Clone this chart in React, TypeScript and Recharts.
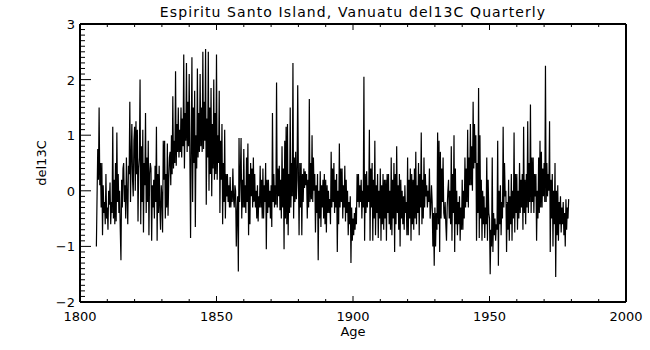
import { LineChart, Line, XAxis, YAxis } from 'recharts';

// quarterly samples, first one at 1806.0
const startAge = 1806;
const step = 0.25;

// del13C values, four per year
const d1806 = [
  -1.0, -0.1, 0.75, 0.2, 1.5, 0.1, 0.5, -0.3, 0.5, -0.8, 0.1, -0.4,
  -0.2, -0.6, 0.3, -0.5, -0.3, -0.7, 0.0, -0.25, 0.15, -0.6, -0.2, -0.4,
  1.15, -0.5, 0.2, -0.6, 0.5, -0.55, 1.05, -0.2, 0.3, -0.4, 0.0, -0.7,
  -1.25, 0.2, -0.3, 0.4, 0.5, -0.2, 0.1, -0.5, 0.6, -0.1, -0.6, 0.45,
  0.3, 1.6, -0.2, 0.6, 1.2, 0.2, -0.1, 0.9, 1.15, 0.0, 1.25, 0.3,
  1.1, -0.55, 0.4, 0.6, 2.0, -0.6, 0.8, -0.2, 1.1, -0.75, 0.5, 0.1,
  1.4, -0.4, 0.6, -0.2, 0.9, -0.8, 0.3, 0.5, 0.4, -0.9, 0.1, -0.3,
  0.2, -0.5, 0.45, -0.2, 1.15, -0.9, 0.3, -0.4, 0.45, -0.3, -0.7, 0.1,
];
const d1830 = [
  -0.1, -0.75, 0.9, 0.2, 0.9, -0.5, 0.3, -0.3, 0.85, -0.45, 0.2, 0.6,
  0.7, 0.1, 1.0, 0.3, 1.7, 0.4, 0.9, 0.5, 2.15, 0.45, 1.2, 0.7,
  1.5, 0.6, 1.1, 0.7, 1.5, 0.6, 1.3, 0.8, 2.45, 0.4, 1.4, 0.9,
  2.3, 0.7, 1.6, 0.8, 2.1, 0.6, -0.85, 0.9, 2.4, -0.2, 1.5, 0.5,
  1.8, -0.65, 1.0, 0.4, 2.2, 0.6, 1.4, 0.7, 2.1, 0.8, 1.5, 0.7,
  2.5, 0.75, 1.6, 0.9, 2.55, -0.25, 1.3, 0.6, 2.5, 0.0, 1.5, 0.3,
  1.85, -0.1, 1.2, 0.4, 2.0, 0.2, 1.4, 0.3, 2.45, 0.2, 1.0, 0.5,
  1.8, -0.4, 0.9, 0.2, 1.2, -0.6, 0.5, -0.2, 1.1, -0.5, 0.3, -0.1,
  0.3, -0.2, 0.1, -0.3, 0.25, -0.3, 0.0, -0.2, 0.4, -0.15, -0.3, 0.1,
  0.0, -1.0, -0.4, -0.1, -1.45, 0.95, -0.2, 0.3, 0.95, -0.5, 0.2, -0.3,
];
const d1860 = [
  0.75, -0.3, 0.1, -0.4, 0.6, -0.2, 0.85, -0.8, 0.3, -0.6, 0.5, -0.1,
  0.4, -0.3, 0.6, -0.2, 0.3, -0.3, 0.0, -0.5, 0.1, -0.55, -0.1, -0.3,
  0.45, -0.3, 0.2, -0.5, 0.4, -0.5, 0.1, -0.2, 0.5, -1.05, 0.2, -0.4,
  0.2, -0.3, 0.0, -0.5, 0.1, -0.65, 1.4, -0.2, 0.3, -0.3, 0.1, -0.25,
  1.95, -0.3, 0.4, -0.1, 0.45, -0.35, 0.2, -0.5, 0.8, -0.3, 0.4, -1.05,
  0.9, -0.5, 1.15, -0.6, 1.2, -0.8, 0.3, -0.4, 1.5, -0.3, 0.5, -0.1,
  2.3, -0.5, 0.6, -0.2, 0.7, -0.15, 0.2, 1.9, 0.3, -0.8, 0.5, -0.3,
  0.5, -0.8, 0.3, -0.2, 0.4, 0.05, 0.35, 0.1, 0.3, -0.5, 0.2, -0.3,
  1.65, -0.2, 0.5, -0.15, 1.0, -0.2, 0.6, 0.0, 0.3, -0.75, 0.1, -0.4,
  0.3, -1.25, 0.0, -0.5, 0.35, -0.65, 0.1, -0.3, 0.2, -0.5, 0.3, -0.6,
  0.2, -0.75, 0.1, -0.4, 0.0, -0.4, -0.15, -0.6, 0.7, -0.3, 0.4, -0.2,
  0.5, -0.4, 0.2, -0.3, 0.3, -1.1, 0.0, -0.6, 0.85, -0.3, 0.4, -0.2,
  0.4, -0.5, 0.1, -0.3, 0.45, -0.55, 0.2, -0.4, 0.0, -0.8, -0.2, -0.6,
  -0.1, -1.3, -0.3, -0.9,
];
const d1900 = [
  -0.5, -0.8, -0.4, -0.7, -0.3, -0.6, 0.3, -0.2, 0.3, -0.3, 0.1, -0.2,
  0.2, -0.5, 0.0, -0.3, 2.05, -0.9, 0.3, -0.4, 0.35, -0.3, 0.1, -0.2,
  1.1, -0.9, 0.4, -0.3, 0.5, -0.9, 0.2, -0.5, 0.9, -0.8, 0.1, -0.4,
  0.3, -0.85, 0.0, -0.5, 0.4, -0.9, 0.1, -0.6, 0.3, -0.7, 0.2, -0.5,
  0.2, -0.9, 0.3, -0.4, 0.3, -0.6, 0.0, -0.7, 0.6, -0.8, 0.2, -0.5,
  0.5, -1.1, 0.3, -0.6, 0.8, -0.4, 0.1, -0.7, 0.3, -1.0, 0.2, -0.5,
  0.0, -0.6, -0.1, -0.7, 0.1, -0.4, -0.2, -0.8, 0.6, -0.8, 0.2, -0.5,
  0.4, -0.9, 0.3, -0.6, 0.2, -0.7, 0.4, -0.5, 0.7, -0.6, 0.1, -0.4,
  0.5, -0.8, 0.3, -0.3, 1.05, -0.6, 0.2, -0.5, 0.6, -0.3, 0.3, -0.1,
  0.1, -0.3, 0.0, -0.2, 0.4, -0.5, -0.3, 0.1, -0.2, -1.0, -0.4, -1.35,
  -0.3, -1.0, -0.4, -0.7, 1.05, -0.6, 0.9, -1.1, 0.7, -0.5, 0.4, -0.2,
  0.6, -0.4, -0.5, -0.2, -0.6, -0.9, -0.3, 0.0, 0.2, -0.5, 0.0, -0.6,
  0.8, -0.9, 0.3, -0.4, 1.0, -1.1, 0.4, -0.6, 0.0, -0.8, -0.2, -0.6,
  -0.1, -0.9, -0.3, -0.7,
];
const d1940 = [
  0.2, -0.7, 0.0, -0.5, 0.6, -0.3, 0.4, -0.2, 1.1, -0.3, 0.6, 0.1,
  1.2, 0.1, 0.8, 0.0, 1.6, 0.4, 1.2, 0.5, 1.0, -0.9, 0.5, -0.4,
  1.85, -0.85, 1.0, -0.5, 0.2, -0.9, 0.0, -0.6, -0.1, -0.85, -0.3, -0.6,
  0.6, -0.9, 0.2, -0.4, -0.5, -1.5, -0.7, -1.0, 0.6, -1.1, -0.4, -0.8,
  -0.5, -0.9, -0.6, -0.7, 0.9, -1.35, 0.0, -0.6, 0.1, -0.8, -0.2, -0.5,
  1.15, -0.3, 0.5, -0.1, 0.0, -1.1, -0.2, -0.7, 0.2, -0.9, -0.1, -0.6,
  0.3, -0.9, 0.0, -0.5, 1.05, -0.75, 0.3, -0.4, 0.3, -0.7, 0.0, -0.5,
  0.5, -0.4, 0.2, -0.3, 0.3, -0.7, 1.15, -0.4, 0.2, -0.6, 0.3, -0.3,
  1.25, -0.4, 0.5, -0.2, 1.55, -0.4, 0.6, -0.2, 0.6, -0.4, 0.3, -0.1,
  0.3, -0.9, 0.0, -0.5, 0.6, -0.4, 0.9, -0.3, 0.7, -0.3, 0.4, -0.1,
  0.5, -0.2, 2.25, -0.2, 0.5, -0.1, 0.3, 0.0, 1.25, -1.1, 0.2, -0.5,
  0.3, -1.0, 0.0, -0.6, 0.5, -1.55, 0.0, -0.8, 0.1, -0.9, -0.2, -0.6,
  -0.1, -0.75, -0.3, -0.6, -0.2, -0.8, -0.4, -1.0, -0.15, -0.7, -0.3, -0.5,
  -0.15,
];

const del13C = [...d1806, ...d1830, ...d1860, ...d1900, ...d1940];

const xTicks = [
  1800, 1810, 1820, 1830, 1840, 1850, 1860, 1870, 1880, 1890, 1900,
  1910, 1920, 1930, 1940, 1950, 1960, 1970, 1980, 1990, 2000,
];
const xLabels = [1800, 1850, 1900, 1950, 2000];
// minor ticks every 0.1
const yTicks = Array.from({ length: 51 }, (_, i) => Math.round(-20 + i) / 10);

const data = del13C.map((v, i) => ({ age: startAge + i * step, value: v }));

const font = 'DejaVu Sans';

const fmtY = (v: number) => (v < 0 ? '\u2212' + Math.abs(v) : String(v));

const BottomTick = ({ x, y, payload }: any) => {
  const major = xLabels.includes(payload.value);
  return (
    <g>
      <line x1={x} y1={y} x2={x} y2={y - (major ? 6 : 3)} stroke="#000" />
      {major && (
        <text x={x} y={y + 19} textAnchor="middle" fontFamily={font} fontSize={13} fill="#000">
          {payload.value}
        </text>
      )}
    </g>
  );
};

const TopTick = ({ x, y, payload }: any) => {
  const major = xLabels.includes(payload.value);
  return <line x1={x} y1={y} x2={x} y2={y + (major ? 6 : 3)} stroke="#000" />;
};

const LeftTick = ({ x, y, payload }: any) => {
  const major = Number.isInteger(payload.value);
  return (
    <g>
      <line x1={x} y1={y} x2={x + (major ? 11 : 5)} y2={y} stroke="#000" />
      {major && (
        <text x={x - 5} y={y + 5} textAnchor="end" fontFamily={font} fontSize={13} fill="#000">
          {fmtY(payload.value)}
        </text>
      )}
    </g>
  );
};

const RightTick = ({ x, y, payload }: any) => {
  const major = Number.isInteger(payload.value);
  return <line x1={x} y1={y} x2={x - (major ? 11 : 5)} y2={y} stroke="#000" />;
};

const frame = { stroke: '#000', strokeWidth: 2 };

export default function App() {
  return (
    <div style={{ position: 'absolute', left: 0, top: 0, width: 650, height: 350, background: '#fff' }}>
      <LineChart width={650} height={350} data={data} margin={{ top: 23, right: 23, bottom: 47, left: 79 }}>
        <XAxis
          xAxisId="bottom"
          dataKey="age"
          type="number"
          domain={[1800, 2000]}
          ticks={xTicks}
          interval={0}
          height={1}
          tickSize={0}
          tickMargin={0}
          tickLine={false}
          tick={<BottomTick />}
          axisLine={frame}
        />
        <XAxis
          xAxisId="top"
          orientation="top"
          dataKey="age"
          type="number"
          domain={[1800, 2000]}
          ticks={xTicks}
          interval={0}
          height={1}
          tickSize={0}
          tickMargin={0}
          tickLine={false}
          tick={<TopTick />}
          axisLine={frame}
        />
        <YAxis
          yAxisId="left"
          type="number"
          domain={[-2, 3]}
          ticks={yTicks}
          interval={0}
          width={1}
          tickSize={0}
          tickMargin={0}
          tickLine={false}
          tick={<LeftTick />}
          axisLine={frame}
        />
        <YAxis
          yAxisId="right"
          orientation="right"
          type="number"
          domain={[-2, 3]}
          ticks={yTicks}
          interval={0}
          width={1}
          tickSize={0}
          tickMargin={0}
          tickLine={false}
          tick={<RightTick />}
          axisLine={frame}
        />
        <Line
          xAxisId="bottom"
          yAxisId="left"
          dataKey="value"
          stroke="#000"
          strokeWidth={1.2}
          dot={false}
          isAnimationActive={false}
        />
      </LineChart>
      <svg
        width={650}
        height={350}
        style={{ position: 'absolute', left: 0, top: 0, pointerEvents: 'none' }}
        fontFamily={font}
        fontSize={13}
      >
        <text x={353} y={17} textAnchor="middle" fontSize={14} letterSpacing={1.1}>
          Espiritu Santo Island, Vanuatu del13C Quarterly
        </text>
        <text x={353} y={336} textAnchor="middle">Age</text>
        <text x={46} y={163} textAnchor="middle" transform="rotate(-90 46 163)">del13C</text>
      </svg>
    </div>
  );
}
